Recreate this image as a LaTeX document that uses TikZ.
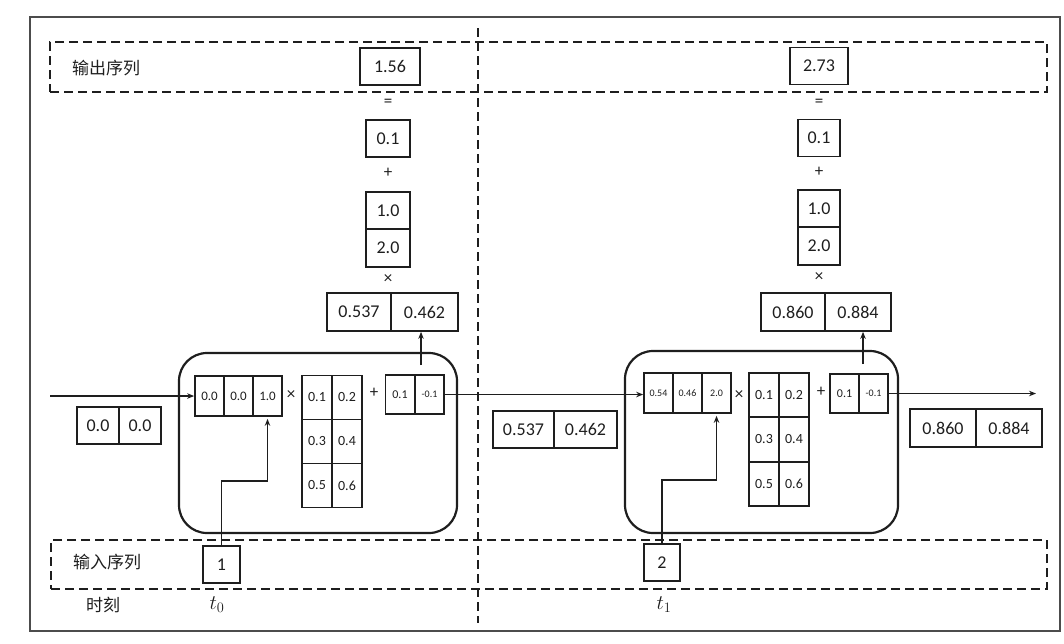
\documentclass[tikz,border=0pt]{standalone}
\usepackage{fontspec}
\setmainfont{Carlito}
\newfontfamily\cjk{Noto Sans CJK SC}
\usetikzlibrary{arrows.meta}
\definecolor{ink}{HTML}{1E1E1E}
\begin{document}
\begin{tikzpicture}[x=1pt,y=-1pt,
  cell/.style={draw=ink, line width=1.7pt, inner sep=0pt, text=ink, font=\fontsize{18}{20}\selectfont},
  vcell/.style={cell, minimum width=29pt, minimum height=40pt, font=\fontsize{13}{14}\selectfont},
  vsmall/.style={vcell, font=\fontsize{10}{11}\selectfont},
  mcell/.style={cell, minimum width=30pt, minimum height=44pt, font=\fontsize{14}{15}\selectfont},
  bcell/.style={cell, minimum width=29pt, minimum height=39pt, font=\fontsize{12}{13}\selectfont},
  op/.style={inner sep=0pt, text=ink, font=\fontsize{17}{17}\selectfont},
  dashbox/.style={draw=ink, line width=1.5pt, dash pattern=on 9pt off 5pt},
  rnn/.style={draw=ink, line width=2.2pt, rounded corners=28pt, inner sep=0pt},
  arr/.style={draw=ink, line width=1.9pt, -{Stealth[length=7pt,width=5.5pt]}},
  lab/.style={inner sep=0pt, text=ink, font=\cjk\fontsize{17}{18}\selectfont},
  tlab/.style={inner sep=0pt, text=ink, font=\fontsize{20}{20}\selectfont}
]
\useasboundingbox (0,0) rectangle (1064,643);
% outer frame
\draw[draw=black!70, line width=1.4pt] (30,17) rectangle (1060,631);
% dashed sequence boxes and divider
\node[dashbox, minimum width=997pt, minimum height=50pt, inner sep=0pt] (outseq) at (548.5,67) {};
\node[dashbox, minimum width=996pt, minimum height=49pt, inner sep=0pt] (inseq) at (549,564.5) {};
\draw[dashbox] (478,28) -- (478,623);
\node[lab] (outlab) at (106,68) {输出序列};
\node[lab] (inlab) at (107,562) {输入序列};
\node[lab] (timelab) at (103,605) {时刻};
\node[tlab] (t0) at (217,605) {$t_0$};
\node[tlab] (t1) at (664,605) {$t_1$};

% ---------- time step t0 ----------
\node[cell, minimum width=60pt, minimum height=37pt] (out1) at (390,66.5) {1.56};
\node[op] (eq1) at (388,103) {=};
\node[cell, minimum width=44pt, minimum height=37pt] (ob1) at (388,138.5) {0.1};
\node[op] (pl1) at (388,173) {+};
\node[cell, minimum width=44pt, minimum height=37.5pt] (ow1a) at (388,210.5) {1.0};
\node[cell, minimum width=44pt, minimum height=37.5pt] (ow1b) at (388,248) {2.0};
\node[op] (tm1) at (388,279) {×};
\node[cell, minimum width=64pt, minimum height=38pt] (h1a) at (359,312) {0.537};
\node[cell, minimum width=67pt, minimum height=38pt] (h1b) at (424.5,312) {0.462};

\node[rnn, minimum width=278pt, minimum height=180pt] (c1) at (318,443) {};
\node[vcell] (v1a) at (209.5,396) {0.0};
\node[vcell] (v1b) at (238.5,396) {0.0};
\node[vcell] (v1c) at (267.5,396) {1.0};
\node[op] (x1) at (291,395) {×};
\node[mcell] (m1a) at (317,397.5) {0.1};
\node[mcell] (m1b) at (347,397.5) {0.2};
\node[mcell] (m1c) at (317,441.5) {0.3};
\node[mcell] (m1d) at (347,441.5) {0.4};
\node[mcell] (m1e) at (317,485.5) {0.5};
\node[mcell] (m1f) at (347,485.5) {0.6};
\node[op] (p1) at (374,393) {+};
\node[bcell] (bias1a) at (400,394.5) {0.1};
\node[bcell, font=\fontsize{10}{11}\selectfont] (bias1b) at (429.5,394.5) {-0.1};

\node[cell, minimum width=42pt, minimum height=37pt] (s0a) at (98,425.5) {0.0};
\node[cell, minimum width=42pt, minimum height=37pt] (s0b) at (140,425.5) {0.0};
\node[cell, minimum width=37pt, minimum height=37pt] (in1) at (221.5,564.5) {1};

% ---------- time step t1 ----------
\node[cell, minimum width=58pt, minimum height=37pt] (out2) at (819,66) {2.73};
\node[op] (eq2) at (819,103) {=};
\node[cell, minimum width=42pt, minimum height=37pt] (ob2) at (819,138) {0.1};
\node[op] (pl2) at (819,172) {+};
\node[cell, minimum width=42pt, minimum height=37.5pt] (ow2a) at (819,208.5) {1.0};
\node[cell, minimum width=42pt, minimum height=37.5pt] (ow2b) at (819,246) {2.0};
\node[op] (tm2) at (819,277) {×};
\node[cell, minimum width=64pt, minimum height=38pt] (h2a) at (793,312) {0.860};
\node[cell, minimum width=66pt, minimum height=38pt] (h2b) at (858,312) {0.884};

\node[rnn, minimum width=273pt, minimum height=182pt] (c2) at (761.5,442) {};
\node[vsmall] (v2a) at (658.5,393) {0.54};
\node[vsmall] (v2b) at (687.5,393) {0.46};
\node[vsmall] (v2c) at (716.5,393) {2.0};
\node[op] (x2) at (739,395) {×};
\node[mcell] (m2a) at (764,395) {0.1};
\node[mcell] (m2b) at (794,395) {0.2};
\node[mcell] (m2c) at (764,439.5) {0.3};
\node[mcell] (m2d) at (794,439.5) {0.4};
\node[mcell] (m2e) at (764,484) {0.5};
\node[mcell] (m2f) at (794,484) {0.6};
\node[op] (p2) at (821,392) {+};
\node[bcell] (bias2a) at (844.5,393.5) {0.1};
\node[bcell, font=\fontsize{10}{11}\selectfont] (bias2b) at (873.5,393.5) {-0.1};

\node[cell, minimum width=61pt, minimum height=37pt] (s1a) at (523.5,429.5) {0.537};
\node[cell, minimum width=63pt, minimum height=37pt] (s1b) at (585.5,429.5) {0.462};
\node[cell, minimum width=66pt, minimum height=38pt] (s2a) at (943,428) {0.860};
\node[cell, minimum width=66pt, minimum height=38pt] (s2b) at (1009,428) {0.884};
\node[cell, minimum width=36pt, minimum height=37pt] (in2) at (662,562.5) {2};

% ---------- connectors ----------
\coordinate (in0) at (50,396);
\coordinate (oute) at (1036,393);
\coordinate (u1) at (421,365);
\coordinate (u2) at (863,364);
\draw[arr] (in0) -- (v1a.west);
\draw[arr] (bias1b.east) -- (bias1b.east -| v2a.west);
\draw[arr] (bias2b.east) -- (bias2b.east -| oute);
\draw[arr] (u1) -- (u1 |- h1b.south);
\draw[arr] (u2) -- (u2 |- h2b.south);
\draw[arr, shorten >=2pt] (in1.north) -- ++(0,-64) -| (v1c.south);
\draw[arr, shorten >=2pt] (in2.north) -- ++(0,-63) -| (v2c.south);
\end{tikzpicture}
\end{document}
